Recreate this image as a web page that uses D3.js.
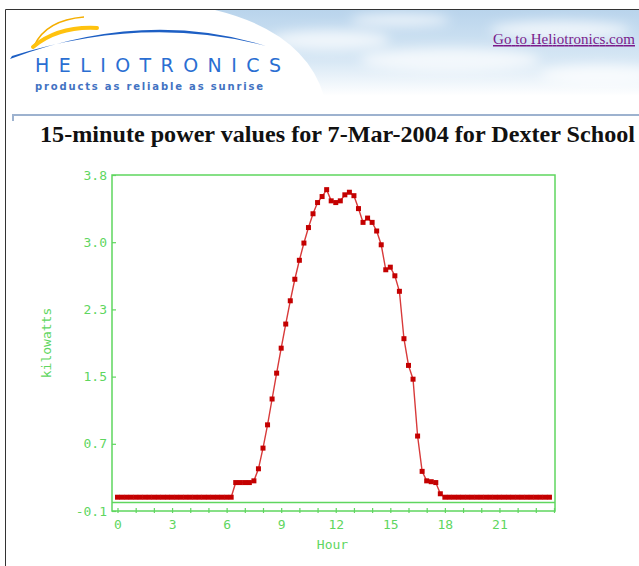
<!DOCTYPE html>
<html>
<head>
<meta charset="utf-8">
<script src="https://cdn.jsdelivr.net/npm/d3@7"></script>
<style>
	body { margin: 0; background: #fff; }
	svg { display: block; }
</style>
</head>
<body>
<div id="chart"></div>
<script>
// 15-minute power readings, 7-Mar-2004, Dexter School (kW)
const kilowatts = [
	0.06, 0.06, 0.06, 0.06, 0.06, 0.06, 0.06, 0.06, 0.06, 0.06, 0.06, 0.06, 0.06,
	0.06, 0.06, 0.06, 0.06, 0.06, 0.06, 0.06, 0.06, 0.06, 0.06, 0.06, 0.06, 0.06,
	0.23, 0.23, 0.23, 0.23, 0.25,
	0.39, 0.63, 0.90, 1.20, 1.50, 1.79, 2.07, 2.34, 2.59, 2.81, 3.01, 3.19, 3.35,
	3.48, 3.55, 3.63, 3.50, 3.48, 3.50, 3.57, 3.60, 3.56, 3.41, 3.25, 3.30, 3.25,
	3.15, 2.99, 2.70, 2.73, 2.63, 2.45, 1.90, 1.59, 1.43, 0.77, 0.36, 0.25, 0.24,
	0.23, 0.10,
	0.06, 0.06, 0.06, 0.06, 0.06, 0.06, 0.06, 0.06, 0.06, 0.06, 0.06, 0.06,
	0.06, 0.06, 0.06, 0.06, 0.06, 0.06, 0.06, 0.06, 0.06, 0.06, 0.06, 0.06
];
// one slot every quarter hour
const hours = kilowatts.map((d, i) => i / 4);

const xTicks = [0, 1, 2, 3, 4, 5, 6, 7, 8, 9, 10, 11, 12, 13, 14, 15, 16, 17, 18, 19, 20, 21, 22, 23, 24];
const xTickLabels = [0, 3, 6, 9, 12, 15, 18, 21];
const yTicks = [-0.1, 0.68, 1.46, 2.24, 3.02, 3.8];
const yTickLabels = ['-0.1', '0.7', '1.5', '2.3', '3.0', '3.8'];

const title = '15-minute power values for 7-Mar-2004 for Dexter School';
const linkText = 'Go to Heliotronics.com';

const green = '#5fd65f';
const red = '#c40000';
const axisFont = '"DejaVu Sans Mono", monospace';

const svg = d3
	.select('#chart')
	.append('svg')
	.attr('width', 639)
	.attr('height', 566);

// ---- page header ----
const defs = svg.append('defs');
const sky = defs.append('linearGradient')
	.attr('id', 'sky')
	.attr('x1', 0).attr('y1', 0).attr('x2', 0).attr('y2', 1);
sky.append('stop').attr('offset', '0%').attr('stop-color', '#b9d4ec');
sky.append('stop').attr('offset', '60%').attr('stop-color', '#d8e8f5');
sky.append('stop').attr('offset', '100%').attr('stop-color', '#ffffff');
defs.append('filter').attr('id', 'blur')
	.append('feGaussianBlur').attr('stdDeviation', 6);

svg.append('path')
	.attr('d', 'M215,10 L639,10 L639,96 L324,96 Q305,32 215,10 Z')
	.attr('fill', 'url(#sky)');

const clouds = [[330, 40, 60, 10], [450, 60, 90, 12], [560, 30, 70, 9], [400, 20, 50, 6], [600, 75, 60, 10]];
svg.append('g')
	.attr('filter', 'url(#blur)')
	.selectAll('ellipse')
	.data(clouds)
	.enter()
	.append('ellipse')
	.attr('cx', (d) => d[0])
	.attr('cy', (d) => d[1])
	.attr('rx', (d) => d[2])
	.attr('ry', (d) => d[3])
	.attr('fill', '#fff')
	.attr('opacity', 0.7);

// page border
svg.append('path')
	.attr('d', 'M5.5,566 L5.5,9.5 L639,9.5')
	.attr('fill', 'none')
	.attr('stroke', '#333')
	.attr('stroke-width', 1);

// logo swoosh
svg.append('path')
	.attr('d', 'M34,46 Q46,20 84,17')
	.attr('fill', 'none')
	.attr('stroke', '#f4ae00')
	.attr('stroke-width', 1.6);
svg.append('path')
	.attr('d', 'M33,47 Q58,26 97,28')
	.attr('fill', 'none')
	.attr('stroke', '#ffc20e')
	.attr('stroke-width', 4)
	.attr('stroke-linecap', 'round');
svg.append('path')
	.attr('d', 'M10,59 Q145,8 266,46 Q145,14 12,56 Z')
	.attr('fill', '#1d5fc4');

svg.append('text')
	.attr('x', 35)
	.attr('y', 72)
	.attr('textLength', 246)
	.attr('lengthAdjust', 'spacing')
	.style('font', '19px "DejaVu Sans"')
	.attr('fill', '#2a6ed2')
	.text('HELIOTRONICS');
svg.append('text')
	.attr('x', 35)
	.attr('y', 90)
	.attr('textLength', 228)
	.attr('lengthAdjust', 'spacing')
	.style('font', 'bold 10px "DejaVu Sans"')
	.attr('fill', '#4272c2')
	.text('products as reliable as sunrise');

svg.append('text')
	.attr('x', 493)
	.attr('y', 44)
	.attr('textLength', 142)
	.style('font', '15px "Liberation Serif"')
	.style('text-decoration', 'underline')
	.attr('fill', '#7a1a8a')
	.text(linkText);

// content box edge
svg.append('path')
	.attr('d', 'M13,121 L13,115 L639,115')
	.attr('fill', 'none')
	.attr('stroke', '#9db2cf')
	.attr('stroke-width', 2);

svg.append('text')
	.attr('x', 40)
	.attr('y', 141.5)
	.attr('textLength', 595)
	.attr('lengthAdjust', 'spacingAndGlyphs')
	.style('font', 'bold 23px "Liberation Serif"')
	.attr('fill', '#111')
	.text(title);

// ---- chart ----
const frame = { left: 112, right: 555, top: 175, bottom: 511 };

const x = d3.scaleLinear().domain([0, 24]).range([117.5, 554]);
const y = d3.scaleLinear().domain([-0.1, 3.8]).range([frame.bottom, frame.top]);

svg.append('rect')
	.attr('x', frame.left)
	.attr('y', frame.top)
	.attr('width', frame.right - frame.left)
	.attr('height', frame.bottom - frame.top)
	.attr('fill', 'none')
	.attr('stroke', green)
	.attr('stroke-width', 1.5);

// zero line
svg.append('line')
	.attr('x1', frame.left)
	.attr('x2', frame.right)
	.attr('y1', y(0))
	.attr('y2', y(0))
	.attr('stroke', green)
	.attr('stroke-width', 1.5);

// X axis
const xAxis = svg.append('g')
	.attr('transform', `translate(0, ${frame.bottom})`)
	.call(
		d3.axisBottom(x)
			.tickValues(xTicks)
			.tickSizeOuter(0)
			.tickSizeInner(2)
			.tickPadding(7)
			.tickFormat((d) => (xTickLabels.includes(d) ? d : ''))
	);
xAxis.select('.domain').remove();
xAxis.selectAll('.tick line').attr('y1', -3).attr('stroke', green).attr('stroke-width', 1.2);
xAxis.selectAll('text').attr('fill', green).style('font', `13px ${axisFont}`);

// Y axis
const yAxis = svg.append('g')
	.attr('transform', `translate(${frame.left}, 0)`)
	.call(
		d3.axisLeft(y)
			.tickValues(yTicks)
			.tickSizeOuter(0)
			.tickSizeInner(-4)
			.tickPadding(5)
			.tickFormat((d, i) => yTickLabels[i])
	);
yAxis.select('.domain').remove();
yAxis.selectAll('.tick line').attr('stroke', green).attr('stroke-width', 1.2);
yAxis.selectAll('text').attr('fill', green).style('font', `13px ${axisFont}`);

svg.append('text')
	.attr('x', (frame.left + frame.right) / 2 - 1)
	.attr('y', 549)
	.attr('text-anchor', 'middle')
	.attr('fill', green)
	.style('font', `13px ${axisFont}`)
	.text('Hour');
svg.append('text')
	.attr('transform', `translate(51, ${(frame.top + frame.bottom) / 2}) rotate(-90)`)
	.attr('text-anchor', 'middle')
	.attr('fill', green)
	.style('font', `13px ${axisFont}`)
	.text('kilowatts');

// power line
const points = hours.map((h, i) => ({ h: h, kw: kilowatts[i] }));
svg.append('path')
	.datum(points)
	.attr('fill', 'none')
	.attr('stroke', '#d83a3a')
	.attr('stroke-width', 1.4)
	.attr('d', d3.line().x((d) => x(d.h)).y((d) => y(d.kw)));

svg.selectAll('.marker')
	.data(points)
	.enter()
	.append('rect')
	.attr('class', 'marker')
	.attr('x', (d) => x(d.h) - 2.5)
	.attr('y', (d) => y(d.kw) - 2.5)
	.attr('width', 5)
	.attr('height', 5)
	.attr('fill', red);
</script>
</body>
</html>
